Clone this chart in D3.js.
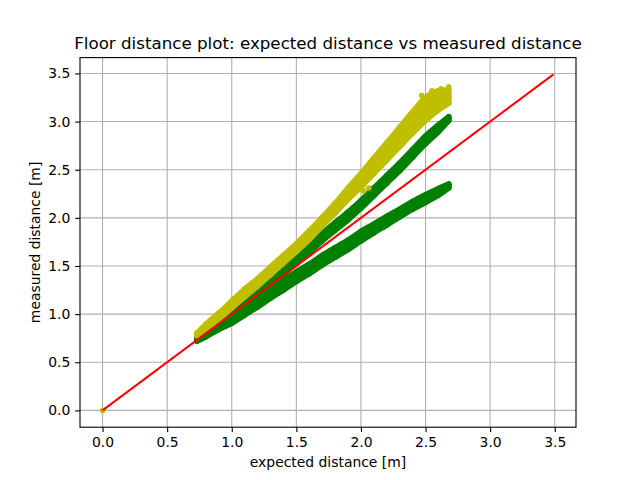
<!DOCTYPE html>
<html>
<head>
<meta charset="utf-8">
<script src="https://cdn.jsdelivr.net/npm/d3@7"></script>
<style>
  html, body { margin: 0; padding: 0; background: #fff; }
  svg { display: block; font-family: "DejaVu Sans", sans-serif; }
</style>
</head>
<body>
<svg id="chart" width="640" height="480"></svg>
<script>
// ---- Data ----
const title = "Floor distance plot: expected distance vs measured distance";
const xLabel = "expected distance [m]";
const yLabel = "measured distance [m]";
const xTicks = [0.0, 0.5, 1.0, 1.5, 2.0, 2.5, 3.0, 3.5];
const yTicks = [0.0, 0.5, 1.0, 1.5, 2.0, 2.5, 3.0, 3.5];

// sample positions along the expected distance
const sampleX = [0.73, 0.8, 0.9, 1.0, 1.1, 1.2, 1.3, 1.4, 1.5, 1.6, 1.7, 1.8, 1.9, 2.0, 2.1, 2.2, 2.3, 2.4, 2.5, 2.6, 2.68];

// lower green cloud: centre and half spread of measured distance
const greenLowCenter = [0.73, 0.79, 0.87, 0.94, 1.03, 1.12, 1.21, 1.30, 1.39, 1.47, 1.56, 1.64, 1.72, 1.81, 1.89, 1.97, 2.05, 2.13, 2.20, 2.27, 2.33];
const greenLowSpread = [0.012, 0.025, 0.03, 0.035, 0.04, 0.045, 0.045, 0.05, 0.05, 0.05, 0.05, 0.05, 0.05, 0.05, 0.045, 0.045, 0.04, 0.04, 0.04, 0.035, 0.02];

// upper green cloud
const greenHighCenter = [0.75, 0.82, 0.92, 1.01, 1.11, 1.21, 1.32, 1.45, 1.57, 1.68, 1.80, 1.91, 2.02, 2.14, 2.27, 2.40, 2.53, 2.67, 2.81, 2.93, 3.03];
const greenHighSpread = [0.012, 0.025, 0.03, 0.035, 0.04, 0.04, 0.04, 0.04, 0.04, 0.04, 0.04, 0.04, 0.04, 0.04, 0.04, 0.04, 0.04, 0.04, 0.04, 0.035, 0.02];

// yellow cloud
const yellowCenter = [0.79, 0.87, 0.98, 1.10, 1.22, 1.33, 1.45, 1.57, 1.69, 1.82, 1.96, 2.10, 2.25, 2.39, 2.54, 2.69, 2.84, 2.99, 3.13, 3.22, 3.26];
const yellowSpread = [0.012, 0.025, 0.03, 0.035, 0.04, 0.04, 0.04, 0.04, 0.04, 0.045, 0.045, 0.05, 0.06, 0.07, 0.08, 0.09, 0.10, 0.11, 0.12, 0.10, 0.07];

// isolated points
const yellowExtraX = [0.0, 2.68, 2.62, 2.55, 2.47, 2.02, 2.06];
const yellowExtraY = [0.0, 3.36, 3.34, 3.32, 3.27, 2.28, 2.31];

// reference line y = x
const refX = [0.0, 3.49];
const refY = [0.0, 3.49];

// ---- Layout ----
const W = 640, H = 480;
const m = { left: 80, right: 576, top: 57.6, bottom: 427.2 };
const svg = d3.select("#chart");

const dataMin = 0, dataMax = 3.49;
const pad = (dataMax - dataMin) * 0.05;
const x = d3.scaleLinear().domain([dataMin - pad, dataMax + pad]).range([m.left, m.right]);
const y = d3.scaleLinear().domain([dataMin - pad, dataMax + pad]).range([m.bottom, m.top]);

const fmt = d3.format(".1f");
const tickLen = 4.86;

// grid
const grid = svg.append("g");
grid.selectAll("line.gx").data(xTicks).enter().append("line")
  .attr("x1", d => x(d)).attr("x2", d => x(d))
  .attr("y1", m.top).attr("y2", m.bottom)
  .attr("stroke", "#b0b0b0").attr("stroke-width", 1.1);
grid.selectAll("line.gy").data(yTicks).enter().append("line")
  .attr("y1", d => y(d)).attr("y2", d => y(d))
  .attr("x1", m.left).attr("x2", m.right)
  .attr("stroke", "#b0b0b0").attr("stroke-width", 1.1);

// clip
svg.append("clipPath").attr("id", "clip").append("rect")
  .attr("x", m.left).attr("y", m.top).attr("width", m.right - m.left).attr("height", m.bottom - m.top);
const plot = svg.append("g").attr("clip-path", "url(#clip)");

const markerR = 2.8;
function drawCloud(centers, spreads, color) {
  const rows = sampleX.map((sx, i) => ({ x: sx, lo: centers[i] - spreads[i], hi: centers[i] + spreads[i], c: centers[i] }));
  const area = d3.area().x(d => x(d.x)).y0(d => y(d.lo)).y1(d => y(d.hi)).curve(d3.curveMonotoneX);
  plot.append("path").datum(rows).attr("d", area)
    .attr("fill", color).attr("stroke", color)
    .attr("stroke-width", markerR * 2).attr("stroke-linejoin", "round");
  const pts = [];
  rows.forEach(r => { pts.push([r.x, r.lo]); pts.push([r.x, r.c]); pts.push([r.x, r.hi]); });
  plot.append("g").selectAll("circle").data(pts).enter().append("circle")
    .attr("cx", d => x(d[0])).attr("cy", d => y(d[1])).attr("r", markerR).attr("fill", color);
}

drawCloud(greenLowCenter, greenLowSpread, "#008000");
drawCloud(greenHighCenter, greenHighSpread, "#008000");
drawCloud(yellowCenter, yellowSpread, "#bfbf00");

plot.append("g").selectAll("circle").data(yellowExtraX).enter().append("circle")
  .attr("cx", d => x(d)).attr("cy", (d, i) => y(yellowExtraY[i])).attr("r", markerR).attr("fill", "#bfbf00");

// reference line
plot.append("path").datum(refX.map((v, i) => [v, refY[i]]))
  .attr("d", d3.line().x(d => x(d[0])).y(d => y(d[1])))
  .attr("fill", "none").attr("stroke", "#ff0000").attr("stroke-width", 2.08);

// spines
svg.append("rect").attr("x", m.left).attr("y", m.top)
  .attr("width", m.right - m.left).attr("height", m.bottom - m.top)
  .attr("fill", "none").attr("stroke", "#000").attr("stroke-width", 1.1);

// axes with ticks
const xAxis = d3.axisBottom(x).tickValues(xTicks).tickFormat(fmt).tickSize(tickLen).tickPadding(4.9);
const yAxis = d3.axisLeft(y).tickValues(yTicks).tickFormat(fmt).tickSize(tickLen).tickPadding(4.9);
const gx = svg.append("g").attr("transform", `translate(0,${m.bottom})`).call(xAxis);
const gy = svg.append("g").attr("transform", `translate(${m.left},0)`).call(yAxis);
[gx, gy].forEach(g => {
  g.select(".domain").remove();
  g.selectAll(".tick line").attr("stroke", "#000").attr("stroke-width", 1.1);
  g.selectAll(".tick text").attr("fill", "#000").attr("font-size", "13.9px").attr("font-family", "DejaVu Sans");
});

// title and labels
svg.append("text").attr("x", (m.left + m.right) / 2).attr("y", 49)
  .attr("text-anchor", "middle").attr("font-size", "16.7px").attr("fill", "#000").text(title);
svg.append("text").attr("x", (m.left + m.right) / 2).attr("y", 467)
  .attr("text-anchor", "middle").attr("font-size", "13.9px").attr("fill", "#000").text(xLabel);
svg.append("text").attr("transform", `translate(40,${(m.top + m.bottom) / 2}) rotate(-90)`)
  .attr("text-anchor", "middle").attr("font-size", "13.9px").attr("fill", "#000").text(yLabel);
</script>
</body>
</html>
